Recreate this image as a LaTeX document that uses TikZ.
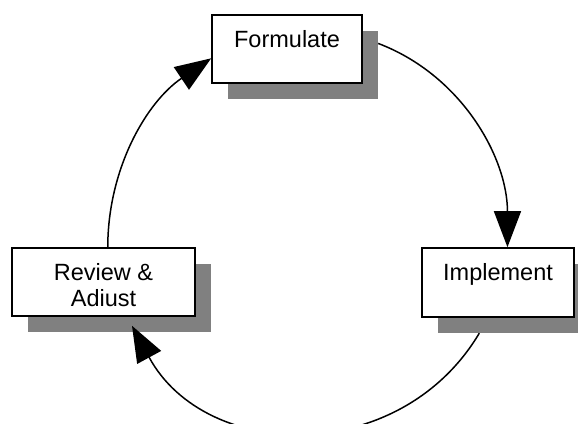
\documentclass[tikz,border=0pt]{standalone}
\usepackage{fontspec}
\setmainfont{Liberation Sans}
\usetikzlibrary{arrows.meta}
\definecolor{shadowgray}{RGB}{128,128,128}
\begin{document}
\begin{tikzpicture}[x=1pt,y=1pt,
  box/.style={draw=black, line width=1.6pt, fill=white, inner sep=0pt,
    text height=32.5pt, font=\fontsize{23.5}{26}\selectfont},
  shadowbox/.style={fill=shadowgray, draw=none, inner sep=0pt},
  conn/.style={line width=1.5pt, -{Triangle[length=36pt,width=27pt]}}]
\useasboundingbox (0,0) rectangle (578,423);
\clip (0,0) rectangle (578,423);
% shadows
\node[shadowbox, minimum width=150pt, minimum height=68pt] (Fs) at (303,358) {};
\node[shadowbox, minimum width=152pt, minimum height=69pt] (Is) at (514,124.5) {};
\node[shadowbox, minimum width=183pt, minimum height=68pt] (Rs) at (119.5,125) {};
% boxes
\node[box, minimum width=150pt, text depth=35.5pt] (F) at (287,374) {Formulate};
\node[box, minimum width=152pt, text depth=36.5pt] (I) at (498,140.5) {Implement};
\node[box, minimum width=183pt, text depth=35.5pt] (R) at (103.5,141)
  {\begin{tabular}[t]{@{}c@{}}Review \&\\Adiust\end{tabular}};
% connectors
\draw[conn] (Fs.16) to[out=-20.8, in=90, looseness=0.95] (I.75);
\draw[conn] (Is.225) to[out=-120.8, in=-61.5, looseness=1.14] ([xshift=28.5pt,yshift=-9pt]R.south);
\draw[conn] (R.83) to[out=90, in=214, looseness=0.93] (F.187);
\end{tikzpicture}
\end{document}
